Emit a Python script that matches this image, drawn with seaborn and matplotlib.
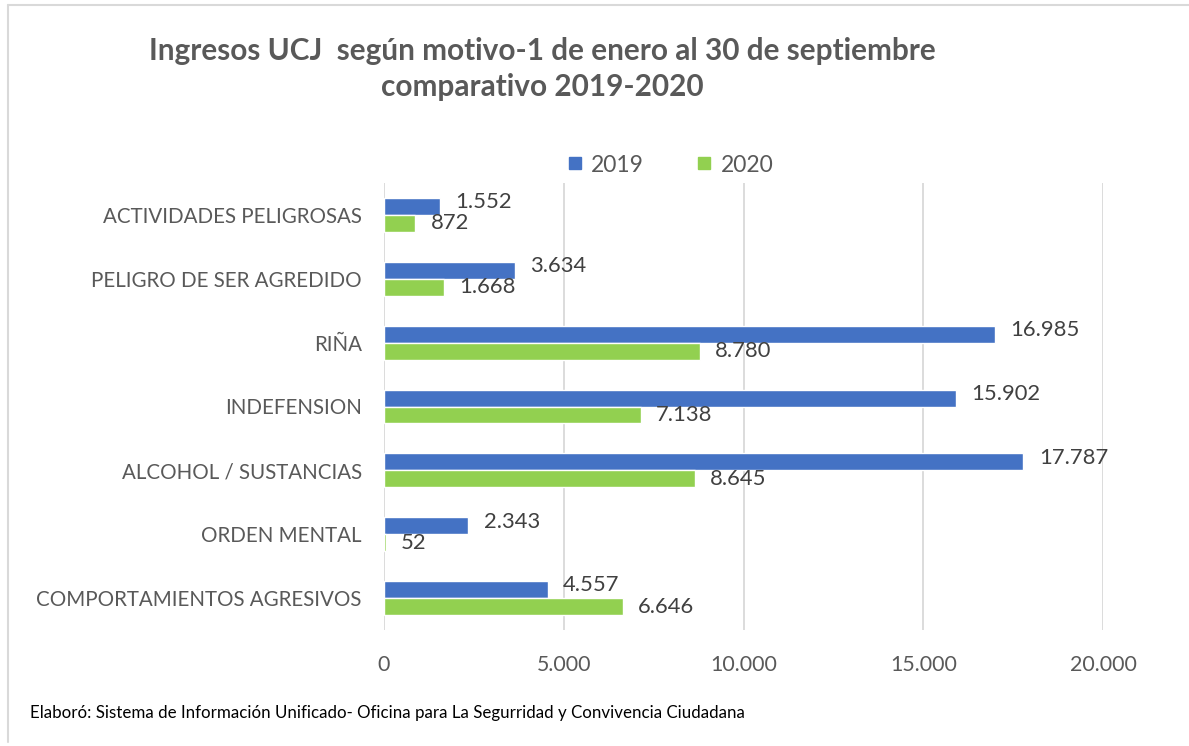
import pandas as pd
import seaborn as sns
import matplotlib.pyplot as plt
from matplotlib.lines import Line2D

motivos = ["ACTIVIDADES PELIGROSAS", "PELIGRO DE SER AGREDIDO", "RIÑA", "INDEFENSION",
           "ALCOHOL / SUSTANCIAS", "ORDEN MENTAL", "COMPORTAMIENTOS AGRESIVOS"]
ingresos_2019 = [1552, 3634, 16985, 15902, 17787, 2343, 4557]
ingresos_2020 = [872, 1668, 8780, 7138, 8645, 52, 6646]
anios = ["2019", "2020"]
colores = {"2019": "#4472C4", "2020": "#92D050"}

df = pd.DataFrame({
    "motivo": motivos * 2,
    "valor": ingresos_2019 + ingresos_2020,
    "anio": ["2019"] * len(motivos) + ["2020"] * len(motivos),
})

def miles(v):
    return f"{int(v):,}".replace(",", ".")

sns.set_style("white")
plt.rcParams['font.family'] = ['Lato', 'DejaVu Sans']
gris = "#595959"

fig = plt.figure(figsize=(11.89, 7.46), dpi=100)
ax = fig.add_axes([384 / 1189, 1 - 630 / 746, (1103 - 384) / 1189, (630 - 183) / 746])

sns.barplot(data=df, x="valor", y="motivo", hue="anio", hue_order=anios, order=motivos,
            palette=colores, saturation=1, orient="h", width=0.53, gap=0, ax=ax, legend=False)

# etiquetas de valor; las de 2019 un poco hacia arriba como en Excel
for cont, serie, dy in zip(ax.containers, [ingresos_2019, ingresos_2020], [3, 0]):
    etiquetas = ax.bar_label(cont, labels=[miles(v) for v in serie], padding=11,
                             fontsize=15.8, color="#404040")
    for t in etiquetas:
        t.xyann = (11, dy)

ax.set_xlim(0, 20000)
ax.set_ylim(6.5, -0.5)
ax.set_xticks([0, 5000, 10000, 15000, 20000])
ax.set_xticklabels([miles(t) for t in [0, 5000, 10000, 15000, 20000]])
ax.tick_params(axis="x", labelsize=15.4, colors=gris, length=0, pad=18)
ax.tick_params(axis="y", labelsize=14.8, colors=gris, length=0, pad=16)
ax.set_xlabel("")
ax.set_ylabel("")
ax.grid(axis="x", color="#D9D9D9", linewidth=1.3)
ax.set_axisbelow(True)
for s in ax.spines.values():
    s.set_visible(False)

handles = [Line2D([], [], marker="s", linestyle="", markersize=9, color=colores[a]) for a in anios]
fig.legend(handles, anios, loc="center", bbox_to_anchor=(670 / 1189, 1 - 165 / 746), ncol=2,
           frameon=False, fontsize=16.5, handlelength=0.7, handletextpad=0.35, columnspacing=2.3,
           labelcolor=gris)

fig.text(542 / 1189, 1 - 51 / 746, "Ingresos UCJ  según motivo-1 de enero al 30 de septiembre",
         ha="center", va="center", fontsize=21.4, fontweight="bold", color=gris)
fig.text(542 / 1189, 1 - 87 / 746, "comparativo 2019-2020",
         ha="center", va="center", fontsize=21.4, fontweight="bold", color=gris)
fig.text(30 / 1189, 1 - 713 / 746,
         "Elaboró: Sistema de Información Unificado- Oficina para La Segurridad y Convivencia Ciudadana",
         ha="left", va="center", fontsize=12.2, color="black")

fig.add_artist(Line2D([8 / 1189, 1], [1 - 5 / 746, 1 - 5 / 746], color="#D9D9D9", linewidth=1.5))
fig.add_artist(Line2D([8 / 1189, 8 / 1189], [1 - 5 / 746, 1 - 742 / 746], color="#D9D9D9", linewidth=1.5))

fig.savefig("out.png", dpi=100)
